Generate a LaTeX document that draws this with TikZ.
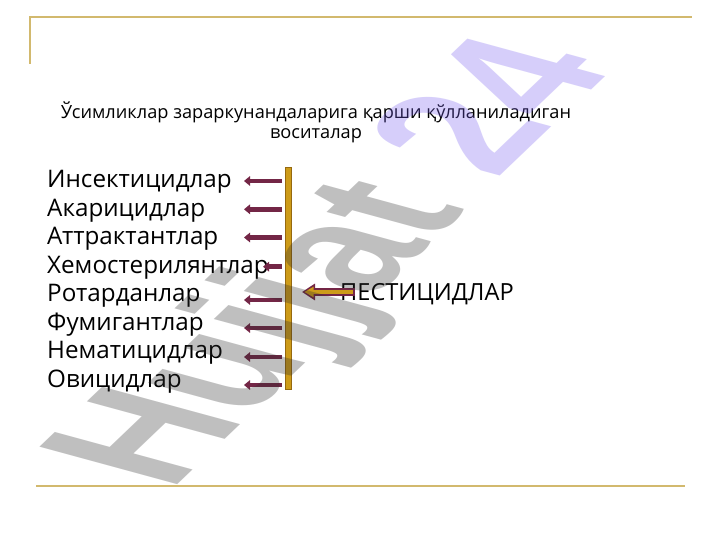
\documentclass[tikz,border=0pt]{standalone}
\usepackage{fontspec}
\setmainfont{Open Sans}
\newfontfamily\wmfont{Liberation Sans}
\usetikzlibrary{arrows.meta}
\definecolor{rulecol}{RGB}{210,185,110}
\definecolor{maroonA}{RGB}{115,38,70}
\definecolor{barfill}{RGB}{205,155,25}
\definecolor{baredge}{RGB}{150,105,15}
\definecolor{wmgray}{RGB}{45,45,45}
\definecolor{wmlav}{RGB}{120,95,240}
\begin{document}
\begin{tikzpicture}[x=1pt,y=-1pt,
  item/.style={anchor=base west, inner sep=0pt, font=\fontsize{24.2}{28}\selectfont},
  titletext/.style={anchor=base, inner sep=0pt, font=\fontsize{18.2}{20}\selectfont},
  arr/.style={maroonA, line width=4.5pt, -{Triangle[length=6pt,width=9.5pt]}, shorten <=3pt},
  ruleline/.style={rulecol, line width=2pt}]
\useasboundingbox (0,0) rectangle (720,540);
\fill[white] (0,0) rectangle (720,540);
% frame rules
\draw[ruleline] (30,64) -- (30,17.5) -- (692,17.5);
\draw[ruleline] (36,485.5) -- (685,485.5);
% title
\node[titletext] (title1) at (316,118.3) {Ўсимликлар зараркунандаларига қарши қўлланиладиган};
\node[titletext] (title2) at (316,138.3) {воситалар};
% list
\node[item] (i1) at (47,188) {Инсектицидлар};
\node[item] (i2) at (47,216.4) {Акарицидлар};
\node[item] (i3) at (47,244.9) {Аттрактантлар};
\node[item] (i4) at (47,273.3) {Хемостерилянтлар};
\node[item] (i5) at (47,301.8) {Ротарданлар};
\node[item] (i6) at (47,330.2) {Фумигантлар};
\node[item] (i7) at (47,358.7) {Нематицидлар};
\node[item] (i8) at (47,387) {Овицидлар};
% bar
\node[draw=baredge, fill=barfill, line width=0.8pt, minimum width=6pt, minimum height=222pt,
      inner sep=0pt, anchor=north west] (bar) at (285,167) {};
% arrow tips
\coordinate (t1) at (244,181);
\coordinate (t2) at (244,209.3);
\coordinate (t3) at (244,237.5);
\coordinate (t4) at (263,266.7);
\coordinate (t5) at (244,300);
\coordinate (t6) at (244,328);
\coordinate (t7) at (244,357);
\coordinate (t8) at (244,385);
\foreach \k in {1,...,8} \draw[arr] (bar.west |- t\k) -- (t\k);
% pesticides
\node[item, font=\fontsize{23.6}{28}\selectfont] (pest) at (340,300.5) {ПЕСТИЦИДЛАР};
\coordinate (ptail) at (355,292);
\coordinate (ptip) at (302,292);
\draw[maroonA, line width=7.5pt, -{Triangle[length=13pt,width=16pt]}] (ptail) -- (ptip);
\draw[barfill, line width=4pt, -{Triangle[length=9pt,width=10pt]}, shorten >=2.5pt, shorten <=1.8pt] (ptail) -- (ptip);
% watermark
\begin{scope}[shift={(170,492)}, yscale=0.51]
\node[rotate=61.9, transform shape, anchor=base west, inner sep=0pt, opacity=0.3,
      font=\wmfont\bfseries\fontsize{227}{227}\selectfont] (wm) at (0,0)
      {\textcolor{wmgray}{Hujjat} \textcolor{wmlav}{24}};
\end{scope}
\end{tikzpicture}
\end{document}
